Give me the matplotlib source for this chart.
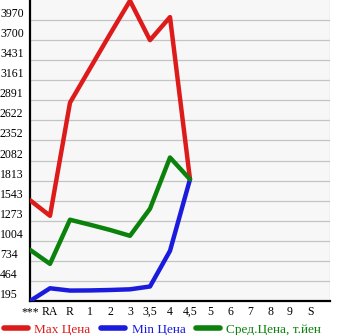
import numpy as np
import matplotlib
matplotlib.use('Agg')
import matplotlib.pyplot as plt
from matplotlib.lines import Line2D

categories = ['***', 'RA', 'R', '1', '2', '3', '3,5', '4', '4,5', '5', '6', '7', '8', '9', 'S']
ytick_labels = ['195', '464', '734', '1004', '1273', '1543', '1813', '2082', '2352',
                '2622', '2891', '3161', '3431', '3700', '3970']

# values per category (only first 9 have data)
max_price = [1550, 1340, 2860, 3320, 3780, 4230, 3700, 4010, 1830]
min_price = [195, 366, 335, 337, 343, 352, 390, 869, 1830]
avg_price = [883, 694, 1287, 1220, 1150, 1071, 1435, 2123, 1830]

names = ['Max Цена', 'Min Цена', 'Сред.Цена, т.йен']
colors = ['#dd1b1b', '#1b1bdd', '#0b820b']

plt.rcParams['font.family'] = ['Liberation Serif', 'DejaVu Serif']

fig = plt.figure(figsize=(3.45, 3.35), dpi=100)
ax = fig.add_axes([30/345, (335-301)/335, 300/345, 301/335])
ax.set_facecolor('#f7f7f7')

x = np.arange(len(max_price))
for vals, c in zip([max_price, min_price, avg_price], colors):
    ax.plot(x, vals, color=c, lw=3.2, solid_capstyle='round', zorder=3)

yt = np.linspace(195, 3970, 15)
step = yt[1] - yt[0]
ax.set_xlim(0, 15)
ax.set_ylim(195, 3970 + step)
ax.set_xticks(np.arange(len(categories)))
ax.set_xticklabels(categories)
ax.set_xticks(np.arange(16), minor=True)
ax.set_yticks(yt)
ax.set_yticklabels(ytick_labels)
ax.grid(True, which='minor', axis='x', color='#c4c4c4', lw=0.9)
ax.grid(True, which='major', axis='y', color='#c4c4c4', lw=0.9)
ax.set_axisbelow(True)

for s in ['top', 'right']:
    ax.spines[s].set_visible(False)
for s in ['left', 'bottom']:
    ax.spines[s].set_linewidth(1.6)
    ax.spines[s].set_color('black')

ax.tick_params(axis='both', which='both', length=0, labelsize=8.5)
ax.tick_params(axis='y', pad=21.6)
ax.tick_params(axis='x', pad=3.5)
for lab in ax.get_yticklabels():
    lab.set_horizontalalignment('left')
    lab.set_verticalalignment('bottom')

handles = [Line2D([0], [0], color=c, lw=4, solid_capstyle='round') for c in colors]
leg = fig.legend(handles, names, loc='lower left', bbox_to_anchor=(-0.015, -0.03), ncol=3,
                 frameon=False, fontsize=9.5, handlelength=1.8, handletextpad=0.5,
                 columnspacing=0.8, borderpad=0.2)
for t, c in zip(leg.get_texts(), colors):
    t.set_color(c)

fig.savefig('out.png', dpi=100)
